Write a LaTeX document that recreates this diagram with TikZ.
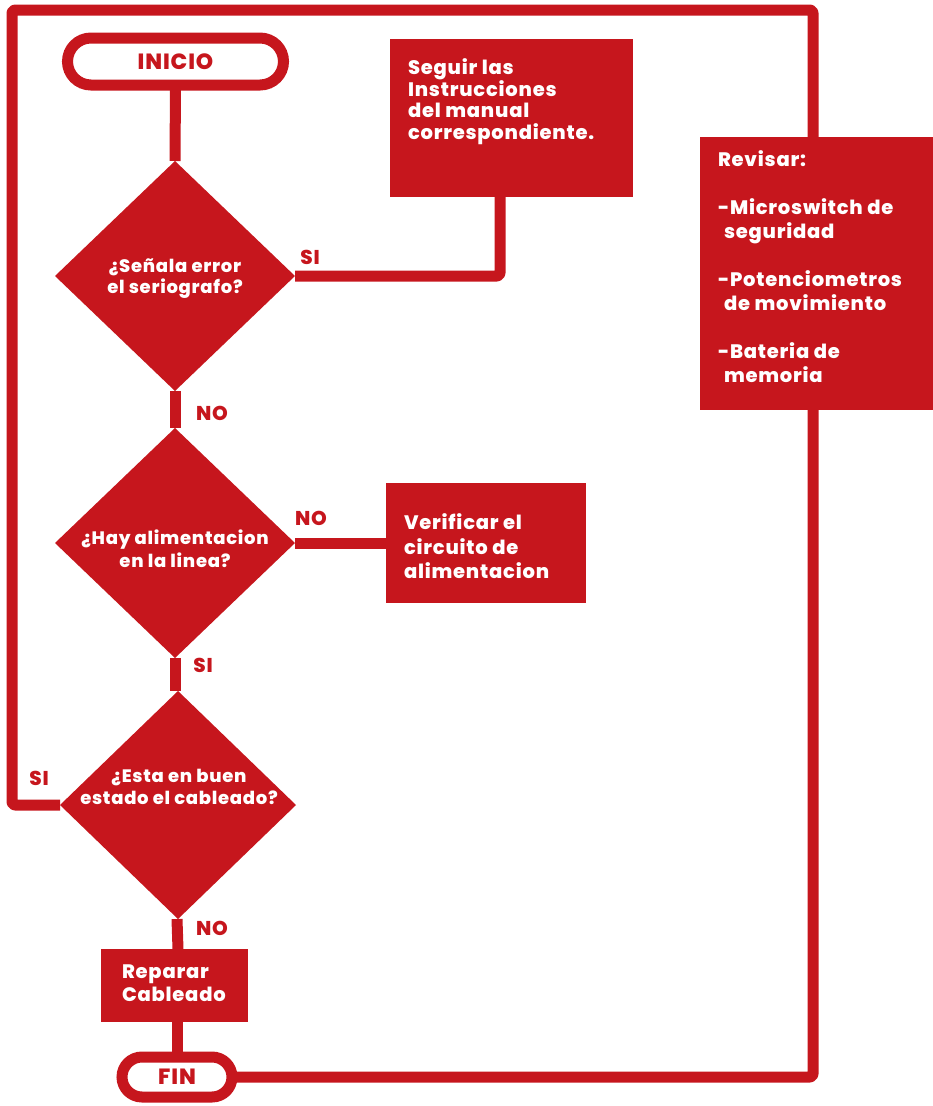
\documentclass[tikz,border=0pt]{standalone}
\usepackage{fontspec}
\IfFontExistsTF{Poppins ExtraBold}
  {\setmainfont{Poppins}[BoldFont={Poppins ExtraBold}, LetterSpace=4]}
  {\setmainfont{Poppins}[LetterSpace=4]}
\usetikzlibrary{shapes.geometric,shapes.misc,backgrounds}
\definecolor{fred}{RGB}{198,22,29}

\begin{document}
\begin{tikzpicture}[x=1pt,y=-1pt,
  every node/.style={inner sep=0pt, outer sep=0pt},
  link/.style={draw=fred, line width=11pt, line join=round, rounded corners=3pt},
  terminal/.style={rounded rectangle, draw=fred, line width=11pt, fill=white,
    text=fred, font=\fontsize{22}{24}\selectfont\bfseries},
  decision/.style={diamond, fill=fred, minimum width=240pt, minimum height=230pt},
  question/.style={text=white, align=center, font=\fontsize{18}{23}\selectfont\bfseries},
  action/.style={rectangle, fill=fred},
  actiontext/.style={text=white, align=left, anchor=north west},
  answer/.style={text=fred, font=\fontsize{20}{20}\selectfont\bfseries}
]
\useasboundingbox (0,0) rectangle (933,1106);

% terminals
\node[terminal, minimum width=216pt, minimum height=47pt] (inicio) at (175.5,61.5) {INICIO};
\node[terminal, minimum width=110pt, minimum height=40pt] (fin) at (177,1077) {FIN};

% decisions
\node[decision] (d1) at (175,276) {};
\node[decision] (d2) at (175,543) {};
\node[decision, minimum width=236pt, minimum height=228pt] (d3) at (178,805) {};
\node[question] (q1) at (175,279) {¿Señala error\\[-2pt]el seriografo?};
\node[question] (q2) at (175,549) {¿Hay alimentacion\\en la linea?};
\node[question] (q3) at (179,787) {¿Esta en buen\\[-1pt]estado el cableado?};

% action boxes
\node[action, minimum width=243pt, minimum height=158pt] (seguir) at (511.5,118) {};
\node[action, minimum width=233pt, minimum height=273pt] (revisar) at (816.5,273.5) {};
\node[action, minimum width=200pt, minimum height=120pt] (verif) at (485.5,543) {};
\node[action, minimum width=147pt, minimum height=73pt] (reparar) at (174.5,985.5) {};

\node[actiontext, font=\fontsize{19.5}{21.5}\selectfont\bfseries] (tseguir) at (408,59)
  {Seguir las\\Instrucciones\\del manual\\correspondiente.};
\node[actiontext, font=\fontsize{19.5}{24}\selectfont\bfseries] (trevisar) at (718,151)
  {Revisar:\\[24pt]-Microswitch de\\\hspace*{6pt}seguridad\\[24pt]-Potenciometros\\\hspace*{6pt}de movimiento\\[24pt]-Bateria de\\\hspace*{6pt}memoria};
\node[actiontext, font=\fontsize{19.5}{24.5}\selectfont\bfseries] (tverif) at (404,514)
  {Verificar el\\circuito de\\alimentacion};
\node[actiontext, font=\fontsize{19.5}{23}\selectfont\bfseries] (treparar) at (122,965)
  {Reparar\\Cableado};

% corners of the outer return loop
\coordinate (tl) at (12,10);
\coordinate (tr) at (813,10);
\coordinate (br) at (813,1081);

% connectors, kept behind the shapes
\begin{pgfonlayer}{background}
\draw[link] (inicio.south) -- (d1.north);
\draw[link] (d1.east) -| ([xshift=-11.5pt]seguir.south);
\draw[link] (d1.south) -- (d2.north);
\draw[link] (d2.east) -- (verif.west);
\draw[link] (d2.south) -- (d3.north -| d2.south);
\draw[link] (d3.west) -| (tl) -- (tr) -- (tr |- revisar.north);
\draw[link] ([xshift=-1pt]d3.south) -- (reparar.north -| d3.south);
\draw[link] (reparar.south -| fin.north) -- (fin.north);
\draw[link] (fin.east) -- (fin.east -| br) -- (br |- revisar.south);
\end{pgfonlayer}

% branch answers
\node[answer] (a1) at (310,257) {SI};
\node[answer] (a2) at (212,413) {NO};
\node[answer] (a3) at (311,518) {NO};
\node[answer] (a4) at (203,665) {SI};
\node[answer] (a5) at (39,778) {SI};
\node[answer] (a6) at (212,928) {NO};
\end{tikzpicture}
\end{document}
